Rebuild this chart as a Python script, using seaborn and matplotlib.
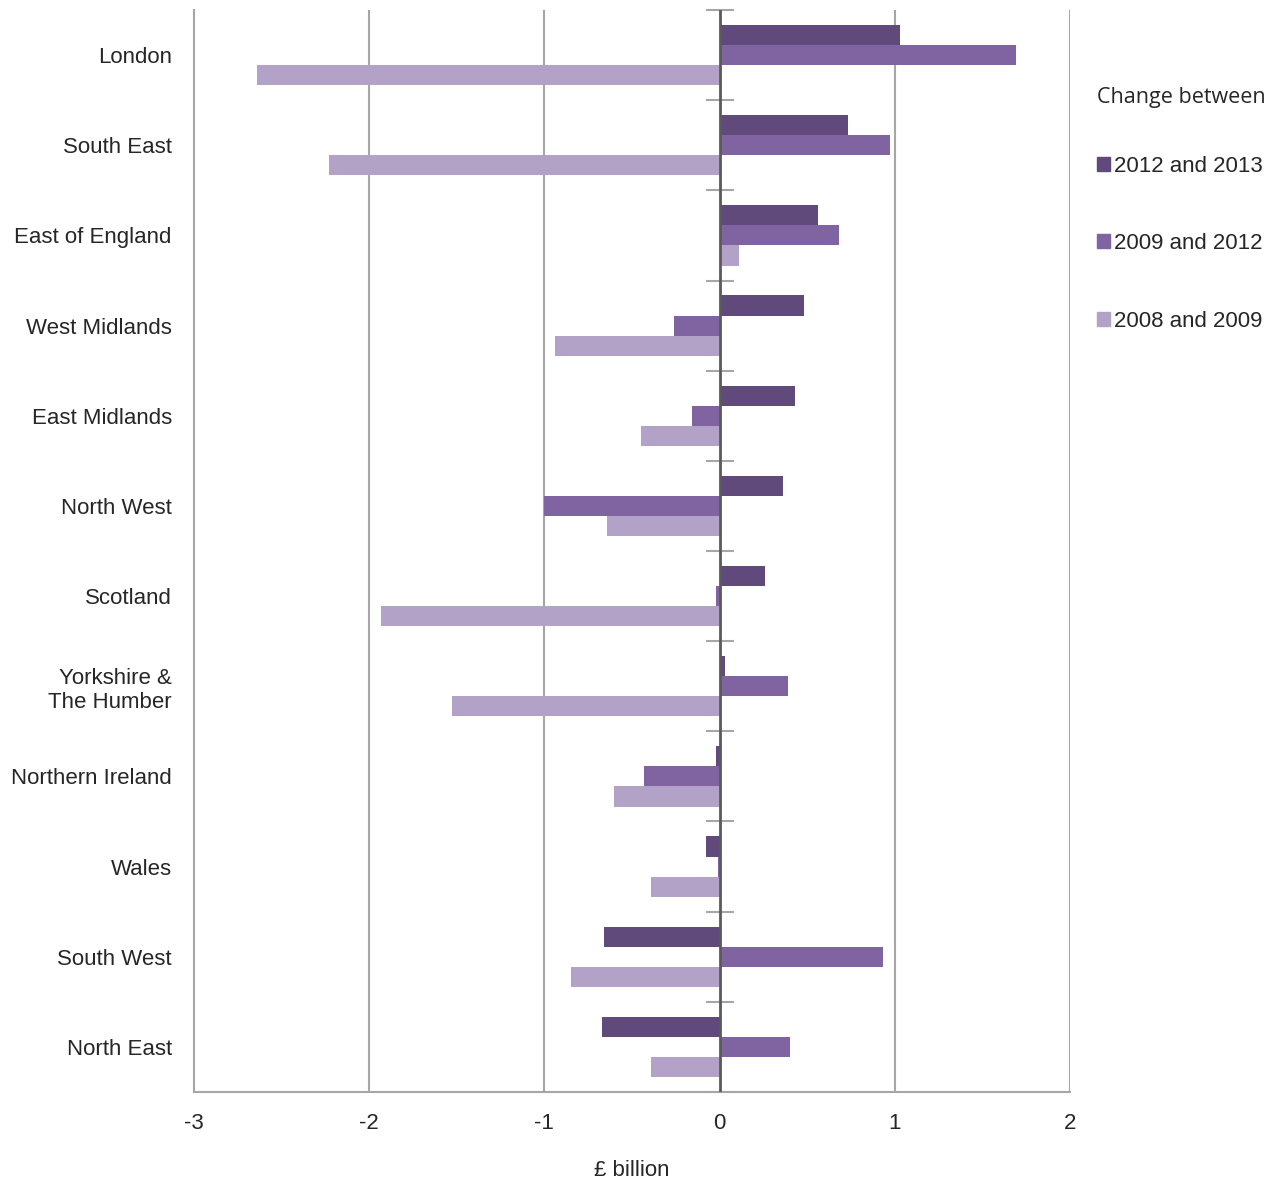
import pandas as pd
import seaborn as sns
import matplotlib.pyplot as plt
from matplotlib.patches import Patch

regions = ['London', 'South East', 'East of England', 'West Midlands', 'East Midlands',
           'North West', 'Scotland', 'Yorkshire &\nThe Humber', 'Northern Ireland',
           'Wales', 'South West', 'North East']
chg_2012_2013 = [1.03, 0.73, 0.56, 0.48, 0.43, 0.36, 0.26, 0.03, -0.02, -0.08, -0.66, -0.67]
chg_2009_2012 = [1.69, 0.97, 0.68, -0.26, -0.16, -1.00, -0.02, 0.39, -0.43, -0.01, 0.93, 0.40]
chg_2008_2009 = [-2.64, -2.23, 0.11, -0.94, -0.45, -0.64, -1.93, -1.53, -0.60, -0.39, -0.85, -0.39]
periods = ['2012 and 2013', '2009 and 2012', '2008 and 2009']
colors = ['#604a7b', '#8064a2', '#b3a2c7']

df = pd.DataFrame({'region': regions * 3,
                   'value': chg_2012_2013 + chg_2009_2012 + chg_2008_2009,
                   'period': [p for p in periods for _ in regions]})

sns.set_style('white')
plt.rcParams['font.family'] = ['Liberation Sans', 'DejaVu Sans']

fig = plt.figure(figsize=(12.83, 11.79), dpi=100)
ax = fig.add_axes([0.1512, 0.0738, 0.6828, 0.9177])

sns.barplot(data=df, y='region', x='value', hue='period', hue_order=periods,
            order=regions, orient='h', palette=colors, width=0.67, saturation=1,
            edgecolor='none', legend=False, ax=ax)

ax.set_xlim(-3, 2)
ax.set_xticks([-3, -2, -1, 0, 1, 2])
ax.set_xticklabels(['-3', '-2', '-1', '0', '1', '2'])
for v in [-2, -1, 1, 2]:
    ax.axvline(v, color='#a6a6a6', lw=1.5, zorder=0)
ax.axvline(0, color='#5a5a5a', lw=2, zorder=3)

for s in ['top', 'right']:
    ax.spines[s].set_visible(False)
for s in ['left', 'bottom']:
    ax.spines[s].set_color('#a6a6a6')
    ax.spines[s].set_linewidth(1.5)

ax.tick_params(axis='y', length=0, pad=16, labelsize=16)
ax.tick_params(axis='x', length=7, width=1.2, color='#8c8c8c', pad=8, labelsize=16)
ax.set_ylabel('')
ax.set_xlabel('£ billion', fontsize=16, labelpad=19)

# category separator ticks on the zero line
sec = ax.secondary_yaxis(0.6)
sec.set_yticks([i + 0.5 for i in range(-1, len(regions))])
sec.set_yticklabels([])
sec.tick_params(direction='inout', length=20, width=1.5, color='#a6a6a6')
sec.spines['left'].set_visible(False)
sec.spines['right'].set_visible(False)

handles = [Patch(color=c, label=p) for c, p in zip(colors, periods)]
leg = ax.legend(handles=handles, loc='upper left', bbox_to_anchor=(1.008, 0.947),
                frameon=False, title='Change between', fontsize=16,
                handlelength=0.6, handleheight=0.6, handletextpad=0.15,
                labelspacing=2.55, alignment='left')
leg.get_title().set_fontfamily('Open Sans')
leg.get_title().set_fontsize(15.5)
leg._legend_box.sep = 34

fig.savefig('out.png', dpi=100)
